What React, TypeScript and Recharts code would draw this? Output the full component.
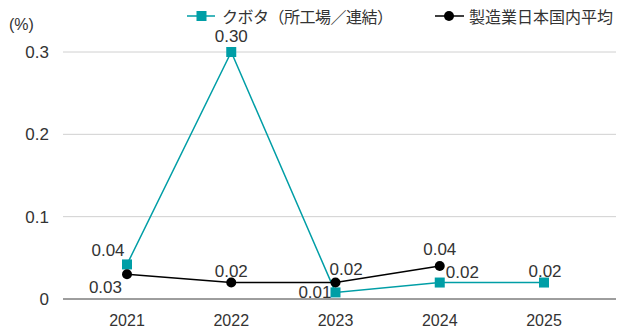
import { LineChart, Line, XAxis, YAxis, CartesianGrid } from "recharts";

const years = ["2021", "2022", "2023", "2024", "2025"];
const kubota = [0.042, 0.3, 0.008, 0.02, 0.02];
const mfgAvg: (number | null)[] = [0.03, 0.02, 0.02, 0.04, null];
const yTicks = [0, 0.1, 0.2, 0.3];

const TEAL = "#009ea6";
const TEXT = "#333";
const NUM_FONT = "'Liberation Sans', Arial, sans-serif";
const JP_FONT = "'Noto Sans CJK JP', 'Noto Sans', sans-serif";

const data = years.map((year, i) => ({
  year,
  kubota: kubota[i],
  avg: mfgAvg[i],
}));

// label placement per point: [dx, dy, anchor]
const kubotaPos: [number, number, string][] = [
  [-19, -14, "middle"],
  [0, -16, "middle"],
  [-4, 0, "end"],
  [6, -10, "start"],
  [1, -11, "middle"],
];
const avgPos: [number, number, string][] = [
  [-5, 13, "end"],
  [0, -11, "middle"],
  [-6, -13, "start"],
  [0, -17, "middle"],
];

const makeLabel = (pos: [number, number, string][]) => (props: any) => {
  const { x, y, value, index } = props;
  if (value == null) return null;
  const [dx, dy, anchor] = pos[index] ?? [0, -12, "middle"];
  return (
    <text
      x={x + dx}
      y={y + dy}
      textAnchor={anchor as any}
      dominantBaseline="central"
      fill={TEXT}
      fontSize={17}
      fontFamily={NUM_FONT}
    >
      {Number(value).toFixed(2)}
    </text>
  );
};

const SquareDot = (props: any) => {
  const { cx, cy } = props;
  if (cx == null || cy == null) return null;
  return <rect x={cx - 5} y={cy - 5} width={10} height={10} fill={TEAL} />;
};

const legendBox = {
  position: "absolute" as const,
  top: 7,
  height: 18,
  lineHeight: "18px",
  display: "flex",
  alignItems: "center",
  fontSize: 16,
  fontFamily: JP_FONT,
  color: TEXT,
};

export default function App() {
  return (
    <div
      style={{
        position: "absolute",
        left: 0,
        top: 0,
        width: 629,
        height: 329,
        background: "#fff",
      }}
    >
      <LineChart
        width={629}
        height={329}
        data={data}
        margin={{ top: 52, right: 13, bottom: 0, left: 0 }}
      >
        <CartesianGrid vertical={false} stroke="#d0d0d0" />
        <XAxis
          dataKey="year"
          padding={{ left: 64, right: 72 }}
          tickLine={false}
          tickSize={0}
          tickMargin={16}
          height={30}
          axisLine={{ stroke: "#555" }}
          tick={{ fill: TEXT, fontSize: 16, fontFamily: NUM_FONT }}
        />
        <YAxis
          width={63}
          domain={[0, 0.3]}
          ticks={yTicks}
          tickFormatter={(v: number) => (v === 0 ? "0" : String(v))}
          axisLine={false}
          tickLine={false}
          tickSize={0}
          tickMargin={14}
          tick={{ fill: TEXT, fontSize: 17, fontFamily: NUM_FONT }}
        />
        <Line
          dataKey="kubota"
          stroke={TEAL}
          strokeWidth={1.5}
          dot={<SquareDot />}
          activeDot={false}
          isAnimationActive={false}
          label={makeLabel(kubotaPos)}
        />
        <Line
          dataKey="avg"
          stroke="#000"
          strokeWidth={1.5}
          dot={{ r: 5, fill: "#000", stroke: "#000", strokeWidth: 0 }}
          activeDot={false}
          isAnimationActive={false}
          label={makeLabel(avgPos)}
        />
      </LineChart>

      <div
        style={{
          position: "absolute",
          left: 9,
          top: 15,
          fontSize: 16,
          fontFamily: NUM_FONT,
          color: TEXT,
          lineHeight: "20px",
        }}
      >
        (%)
      </div>

      <div style={{ ...legendBox, left: 187 }}>
        <svg width={28} height={14} style={{ marginRight: 7 }}>
          <line x1={0} y1={7} x2={28} y2={7} stroke={TEAL} strokeWidth={1.5} />
          <rect x={9.5} y={2} width={10} height={10} fill={TEAL} />
        </svg>
        <span style={{ letterSpacing: -0.5 }}>クボタ（所工場／連結）</span>
      </div>

      <div style={{ ...legendBox, left: 435 }}>
        <svg width={29} height={14} style={{ marginRight: 5 }}>
          <line x1={0} y1={7} x2={29} y2={7} stroke="#000" strokeWidth={1.5} />
          <circle cx={14} cy={7} r={5} fill="#000" />
        </svg>
        <span>製造業日本国内平均</span>
      </div>
    </div>
  );
}
